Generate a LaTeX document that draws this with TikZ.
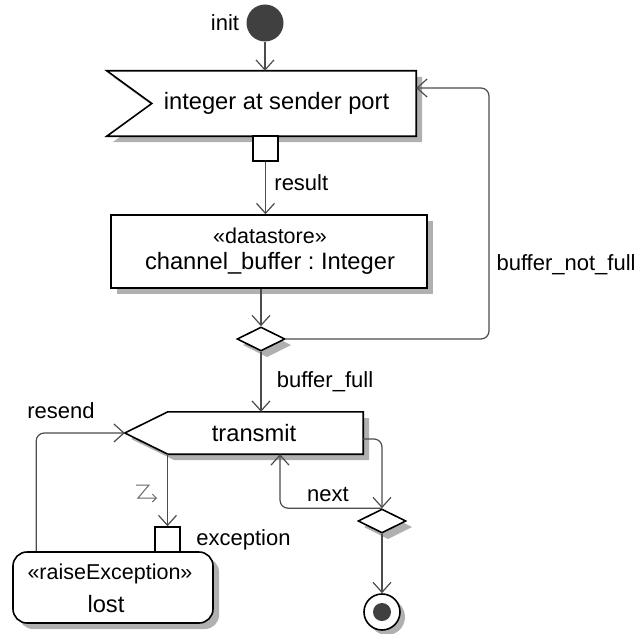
\documentclass[tikz,border=0pt]{standalone}
\usepackage{fontspec}
\setmainfont{Liberation Sans}
\usetikzlibrary{positioning, arrows.meta, calc, shapes.geometric}
\definecolor{shadowgray}{RGB}{176,176,176}
\tikzset{shape line/.style={draw=black, line width=1.6pt, line join=miter},
	frame node/.style={rectangle, inner sep=0pt},
	store node/.style={rectangle, shape line, fill=white, minimum width=316pt, minimum height=73pt},
	lost node/.style={rectangle, rounded corners=14pt, shape line, fill=white, minimum width=200pt, minimum height=71pt},
	pin node/.style={rectangle, shape line, fill=white, minimum size=25pt, inner sep=0pt},
	decision node/.style={diamond, shape line, fill=white, aspect=2, minimum width=48pt, minimum height=24pt, inner sep=0pt},
	init node/.style={circle, fill=black!75, minimum size=37pt, inner sep=0pt},
	final node/.style={circle, shape line, fill=white, minimum size=36pt, inner sep=0pt},
	flow/.style={draw=black!70, line width=1.2pt, -{Straight Barb[length=10pt, width=18pt]}},}

\begin{document}
\frenchspacing
\begin{tikzpicture}[x=1pt, y=-1pt, every node/.style={font=\fontsize{22}{22}\selectfont}]
				\useasboundingbox (0,0) rectangle (640,634);
				% Shadows
				\fill[shadowgray] (113,77) -- (422,77) -- (422,142) -- (113,142) -- (158,109.5) -- cycle;
				\fill[shadowgray] (117,221) rectangle (433,294);
				\fill[shadowgray] (131,439) -- (174,418) -- (369,418) -- (369,460) -- (174,460) -- cycle;
				\fill[shadowgray, rounded corners=14pt] (19,558) rectangle (219,629);
				\fill[shadowgray] (267,333) -- (291,345) -- (267,357) -- (243,345) -- cycle;
				\fill[shadowgray] (388,515) -- (412,527) -- (388,539) -- (364,527) -- cycle;
				\fill[shadowgray] (387,617) circle (18pt);
				% Start
				\node[init node] (init) at (265,23) {};
				\node[left=7pt of init, inner sep=0pt] (init label) {init};
				% Accept event
				\node[frame node, minimum width=309pt, minimum height=65pt] (accept) at (261.5,103.5) {};
				\draw[shape line, fill=white] (accept.north west) -- (accept.north east) -- (accept.south east)
				-- (accept.south west) -- ($(accept.west)+(45,0)$) -- cycle;
				\node[font=\fontsize{23.7}{24}\selectfont] (accept text) at ($(accept.center)+(15,0)$) {integer at sender port};
				\node[pin node] (rpin) at (265.5,148.5) {};
				% Datastore
				\node[store node] (store) at (269,251.5) {};
				\node[font=\fontsize{21.5}{22}\selectfont] (store kind) at (270,236) {«datastore»};
				\node[font=\fontsize{23.7}{24}\selectfont] (store text) at (270,263) {channel\_buffer : Integer};
				\node[decision node] (dec1) at (261,339) {};
				% Send signal
				\node[frame node, minimum width=238pt, minimum height=42pt] (transmit) at (244,433) {};
				\draw[shape line, fill=white] (transmit.west) -- ($(transmit.north west)+(43,0)$) -- (transmit.north east)
				-- (transmit.south east) -- ($(transmit.south west)+(43,0)$) -- cycle;
				\node[font=\fontsize{23.7}{24}\selectfont] (transmit text) at ($(transmit.center)+(10,0)$) {transmit};
				% Exception
				\node[lost node] (lost) at (113,587.5) {};
				\node[font=\fontsize{21.5}{22}\selectfont] (lost kind) at (110,574) {«raiseException»};
				\node[font=\fontsize{23.7}{24}\selectfont] (lost text) at (106,604) {lost};
				\node[pin node] (epin) at (167.5,539.5) {};
				\node[decision node] (dec2) at (382,521) {};
				\node[final node] (final) at (382,612) {};
				\fill[black!75] (final) circle (9pt);
				% Flows
				\coordinate (nf) at (489,88);
				\draw[flow] (init) -- (init |- accept.north);
				\draw[flow] (rpin) -- (rpin |- store.north) node[pos=0.4, right=5pt] {result};
				\draw[flow] (dec1 |- store.south) -- (dec1.north);
				\draw[flow, rounded corners=8pt] (dec1.east) -| (nf) -- (nf -| accept.east);
				\node[anchor=west] (nf label) at (493,265) {buffer\_not\_full};
				\draw[flow] (dec1.south) -- (dec1 |- transmit.north) node[midway, right=12pt] {buffer\_full};
				\draw[flow] (epin |- transmit.south) -- (epin.north);
				\draw[draw=black!60, line width=1pt, -{Straight Barb[length=4pt, width=8pt]}] (136,485) -- (149,485) -- (138,498) -- (157,498);
				\node[right=12pt of epin] (exception label) {exception};
				\draw[flow, rounded corners=8pt] ($(lost.north west)+(24,0)$) |- (transmit.west);
				\node (resend label) at (61,411) {resend};
				\draw[flow, rounded corners=8pt] ($(transmit.east)+(0,6)$) -| (dec2.north);
				\draw[flow, rounded corners=8pt] (dec2.north) -| ($(transmit.south)+(36,0)$);
				\node (next label) at (328,494) {next};
				\draw[flow] (dec2) -- (final);
			\end{tikzpicture}
\end{document}
